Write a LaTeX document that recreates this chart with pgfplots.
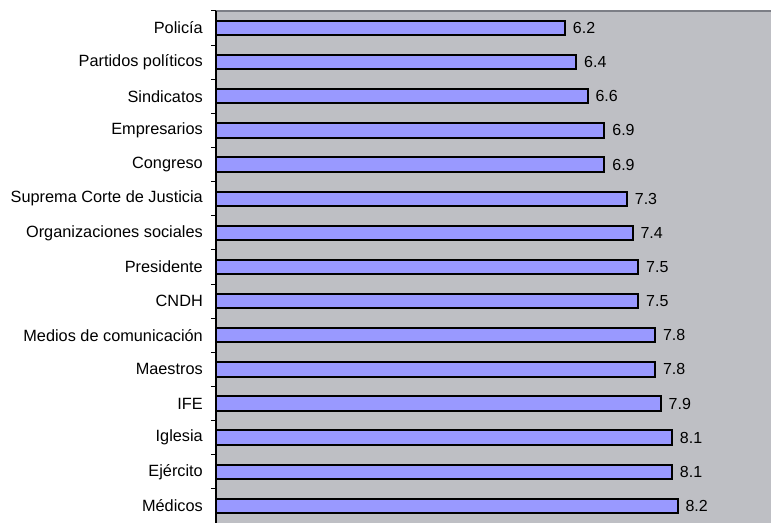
\documentclass[border=0pt]{standalone}
\usepackage{pgfplots}
\pgfplotsset{compat=1.18}
\usepackage{fontspec}
\setmainfont{Liberation Sans}
\definecolor{barfill}{RGB}{153,153,255}
\definecolor{plotbg}{RGB}{190,191,196}
\definecolor{topline}{RGB}{124,126,134}
\begin{document}
\begin{tikzpicture}
\path[use as bounding box] (0,0) rectangle (771bp,523bp);
\begin{axis}[
  at={(216bp,0bp)}, anchor=south west,
  scale only axis, width=555bp, height=512bp,
  xmin=0, xmax=9.86, ymin=0.5, ymax=15.5,
  axis line style={draw=none},
  axis background/.style={fill=plotbg},
  xtick=\empty,
  ytick={1,...,15},
  yticklabels={Médicos, Ejército, Iglesia, IFE, Maestros, Medios de comunicación, CNDH, Presidente, Organizaciones sociales, Suprema Corte de Justicia, Congreso, Empresarios, Sindicatos, Partidos políticos, Policía},
  major tick length=0pt,
  extra y ticks={0.5,1.5,...,15.5},
  extra y tick labels={},
  extra y tick style={major tick length=5bp},
  tick style={black, line width=1bp},
  tick align=outside, ytick pos=left,
  yticklabel style={font=\fontsize{16.3bp}{19bp}\selectfont, inner sep=0pt, anchor=east, xshift=-13bp},
  clip=false,
]
\addplot[xbar, bar width=0.42, fill=barfill, draw=black, line width=2bp,
  point meta=x,
  nodes near coords={\pgfmathprintnumber[fixed,fixed zerofill,precision=1,assume math mode=true]{\pgfplotspointmeta}},
  every node near coord/.append style={anchor=west, inner sep=0pt, xshift=7bp, font=\fontsize{16bp}{19bp}\selectfont, black},
] table {
x y
8.2 1
8.1 2
8.1 3
7.9 4
7.8 5
7.8 6
7.5 7
7.5 8
7.4 9
7.3 10
6.9 11
6.9 12
6.6 13
6.4 14
6.2 15
};
\draw[draw=topline, line width=2bp] (rel axis cs:0,1) -- (rel axis cs:1,1);
\draw[black, line width=1.2bp] (rel axis cs:0,0) -- (rel axis cs:0,1);
\end{axis}
\end{tikzpicture}
\end{document}
